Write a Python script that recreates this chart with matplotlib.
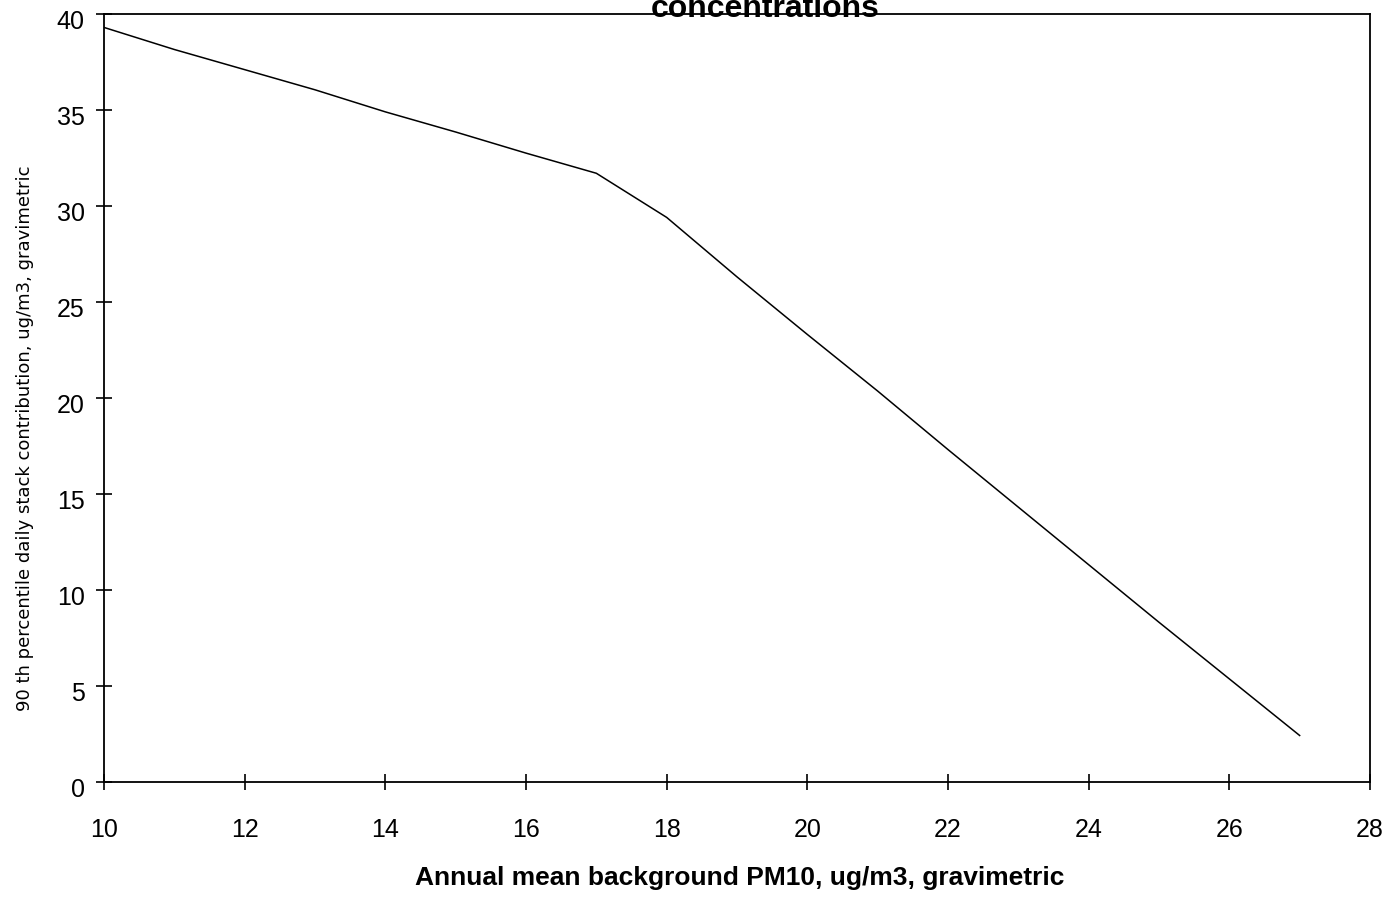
import matplotlib.pyplot as plt
import matplotlib.transforms as mtransforms

# background PM10 (x) vs 90th percentile stack contribution (y)
background = [10, 11, 12, 13, 14, 15, 16, 17, 18, 19, 20, 21, 22, 23, 24, 25, 26, 27]
contribution = [39.3, 38.15, 37.1, 36.05, 34.9, 33.85, 32.75, 31.7, 29.4, 26.3,
                23.3, 20.35, 17.3, 14.3, 11.3, 8.3, 5.35, 2.4]

xticks = [10, 12, 14, 16, 18, 20, 22, 24, 26, 28]
yticks = [0, 5, 10, 15, 20, 25, 30, 35, 40]

plt.rcParams['font.family'] = ['Liberation Sans', 'DejaVu Sans']

fig = plt.figure(figsize=(13.89, 8.98), dpi=100)
ax = fig.add_axes([0.0749, 0.1297, 0.9114, 0.8547])

ax.plot(background, contribution, color='black', linewidth=1.1)

ax.set_xlim(10, 28)
ax.set_ylim(0, 40)
ax.set_xticks(xticks)
ax.set_yticks(yticks)
ax.tick_params(direction='inout', length=12, width=1.2, labelsize=18,
               top=False, right=False)
ax.tick_params(axis='x', pad=20)
ax.tick_params(axis='y', pad=8)
for s in ax.spines.values():
    s.set_linewidth(1.3)
    s.set_color('black')

# y tick labels sit a little below their ticks in the original
shift = mtransforms.ScaledTranslation(0, -0.055, fig.dpi_scale_trans)
for lab in ax.get_yticklabels():
    lab.set_transform(lab.get_transform() + shift)

ax.set_xlabel("Annual mean background PM10, ug/m3, gravimetric",
              fontsize=19, fontweight='bold')
ax.xaxis.label.set_va('baseline')
ax.xaxis.set_label_coords(0.5024, -0.1349)

ax.set_ylabel("90 th percentile daily stack contribution, ug/m3, gravimetric",
              fontsize=13, family='DejaVu Sans')
ax.yaxis.label.set_va('center')
ax.yaxis.set_label_coords(-0.0625, 0.4476)

# title sits mostly above the canvas, only its second line shows
fig.text(0.5508, 1 - 17 / 898, "concentrations", ha='center', va='baseline',
         fontsize=23, fontweight='bold')

fig.savefig("out.png", dpi=100)
